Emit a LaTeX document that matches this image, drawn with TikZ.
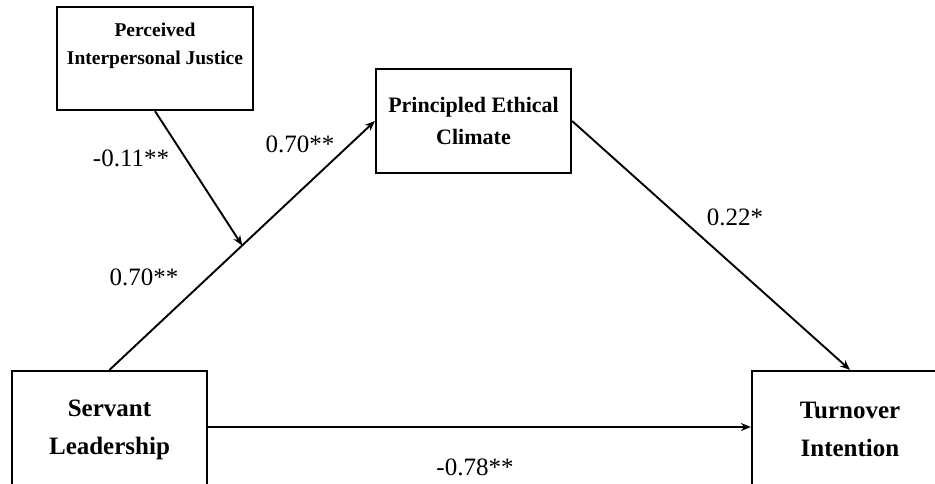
\documentclass[tikz,border=0pt]{standalone}
\usepackage{fontspec}
\setmainfont{Liberation Serif}
\usetikzlibrary{arrows.meta}
\begin{document}
\begin{tikzpicture}[x=1pt,y=-1pt,
  box/.style={draw, line width=2.2pt, inner sep=0pt, align=center},
  conn/.style={line width=1.9pt, -{Stealth[length=10pt,width=8pt]}},
  coef/.style={font=\fontsize{25}{30}\selectfont, inner sep=0pt},
]
\useasboundingbox (0,0) rectangle (935,483);
\clip (0,0) rectangle (935,483);
\node[box, minimum width=196pt, minimum height=103pt] (pij) at (155,58.5) {};
\node[align=center, inner sep=0pt, font=\fontsize{19.5}{28}\selectfont\bfseries] (pijtext) at (155,46) {Perceived\\Interpersonal Justice};
\node[box, minimum width=195pt, minimum height=104pt, font=\fontsize{22}{32}\selectfont\bfseries] (pec) at (473.5,121) {Principled Ethical\\Climate};
\node[box, minimum width=195pt, minimum height=117pt, font=\fontsize{25}{38}\selectfont\bfseries] (sl) at (109.5,429.5) {Servant\\Leadership};
\node[box, minimum width=196pt, minimum height=117pt, font=\fontsize{25}{38}\selectfont\bfseries] (ti) at (850,429.5) {Turnover\\Intention};
\draw[conn] (sl.north) -- (pec.west) coordinate[pos=0.5] (mid);
\draw[conn] (pij.south) -- (mid);
\draw[conn] (pec.east) -- (ti.north);
\draw[conn] (sl.east |- 0,427) coordinate (slr) -- (ti.west |- slr);
\node[coef] (c1) at (131,158) {-0.11**};
\node[coef] (c2) at (300,144) {0.70**};
\node[coef] (c3) at (144,277) {0.70**};
\node[coef] (c4) at (735,217) {0.22*};
\node[coef] (c5) at (475,467) {-0.78**};
\end{tikzpicture}
\end{document}
